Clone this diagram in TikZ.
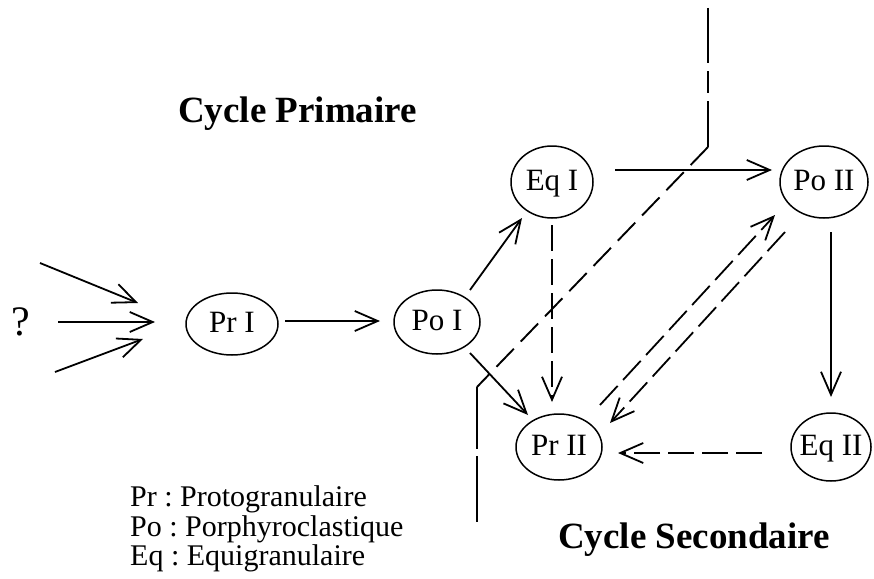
\documentclass[tikz,border=0pt]{standalone}
\usepackage{fontspec}
\setmainfont{Liberation Serif}
\usetikzlibrary{arrows.meta,shapes.geometric}
\frenchspacing
\begin{document}
\begin{tikzpicture}[x=1pt,y=-1pt,
  stage/.style={ellipse, draw, line width=1.5pt, inner sep=0pt, text height=20.5pt, text depth=4pt, font=\fontsize{31}{33}\selectfont},
  arr/.style={line width=1.8pt, -{Straight Barb[length=23pt,width=20pt,line width=1.8pt]}},
  darr/.style={arr, dash pattern=on 26pt off 8pt},
  bound/.style={line width=1.9pt, dash pattern=on 25pt off 10pt},
  title/.style={font=\bfseries\fontsize{37}{40}\selectfont, anchor=base west, inner sep=0pt},
  legend/.style={font=\fontsize{30}{30}\selectfont, anchor=base west, inner sep=0pt},
]
\useasboundingbox[fill=white] (0,0) rectangle (874,578);

% stages
\node[stage, minimum width=92pt, minimum height=62pt] (PrI) at (232,324) {\makebox[0pt]{Pr I}};
\node[stage, minimum width=86pt, minimum height=64pt] (PoI) at (437,322) {\makebox[0pt]{Po I}};
\node[stage, minimum width=82pt, minimum height=72pt] (EqI) at (552,182) {\makebox[0pt]{Eq I}};
\node[stage, minimum width=88pt, minimum height=72pt] (PoII) at (824,182) {\makebox[0pt]{Po II}};
\node[stage, minimum width=86pt, minimum height=66pt] (PrII) at (559,447) {\makebox[0pt]{Pr II}};
\node[stage, minimum width=80pt, minimum height=68pt] (EqII) at (831,447) {\makebox[0pt]{Eq II}};

% question mark and inputs
\node[font=\fontsize{42}{44}\selectfont, inner sep=0pt] (q) at (21,322) {?};
\coordinate (i1) at (40,263);
\coordinate (i2) at (58,322);
\coordinate (i3) at (55,372);
\draw[arr] (i1) -- ([shift={(-94,-21)}]PrI.center);
\draw[arr] (i2) -- ([shift={(-77,-2)}]PrI.center);
\draw[arr] (i3) -- ([shift={(-89,15)}]PrI.center);

% primary cycle
\draw[arr] ([shift={(53,-3)}]PrI.center) -- ([shift={(-57,-1)}]PoI.center);
\draw[arr] ([shift={(33,-32)}]PoI.center) -- ([shift={(-30,36)}]EqI.center);
\draw[arr] ([shift={(33,31)}]PoI.center) -- ([shift={(-31,-32)}]PrII.center);
\draw[arr] ([shift={(63,-12)}]EqI.center) -- ([shift={(-52,-12)}]PoII.center);
\draw[darr] ([shift={(0,43)}]EqI.center) -- ([shift={(-7,-45)}]PrII.center);

% secondary cycle
\draw[arr] ([shift={(7,50)}]PoII.center) -- ([shift={(0,-50)}]EqII.center);
\draw[darr] ([shift={(-69,6)}]EqII.center) -- ([shift={(59,6)}]PrII.center);
\draw[darr] ([shift={(41,-42)}]PrII.center) -- ([shift={(-49,33)}]PoII.center);
\draw[darr] ([shift={(-39,50)}]PoII.center) -- ([shift={(51,-24)}]PrII.center);

% boundary
\coordinate (b1) at (708,8);
\coordinate (b2) at (708,147);
\coordinate (b3) at (477,387);
\coordinate (b4) at (477,522);
\draw[line width=1.9pt, dash pattern=on 55pt off 8pt on 22pt off 8pt on 60pt] (b1) -- (b2);
\draw[bound] (b2) -- (b3);
\draw[line width=1.9pt, dash pattern=on 62pt off 7pt on 70pt] (b3) -- (b4);

% titles
\node[title] (cp) at (178,122) {Cycle Primaire};
\node[title] (cs) at (558,548) {Cycle Secondaire};

% legend
\node[legend] (l1) at (130,506) {Pr : Protogranulaire};
\node[legend] (l2) at (130,536) {Po : Porphyroclastique};
\node[legend] (l3) at (130,565) {Eq : Equigranulaire};
\end{tikzpicture}
\end{document}
